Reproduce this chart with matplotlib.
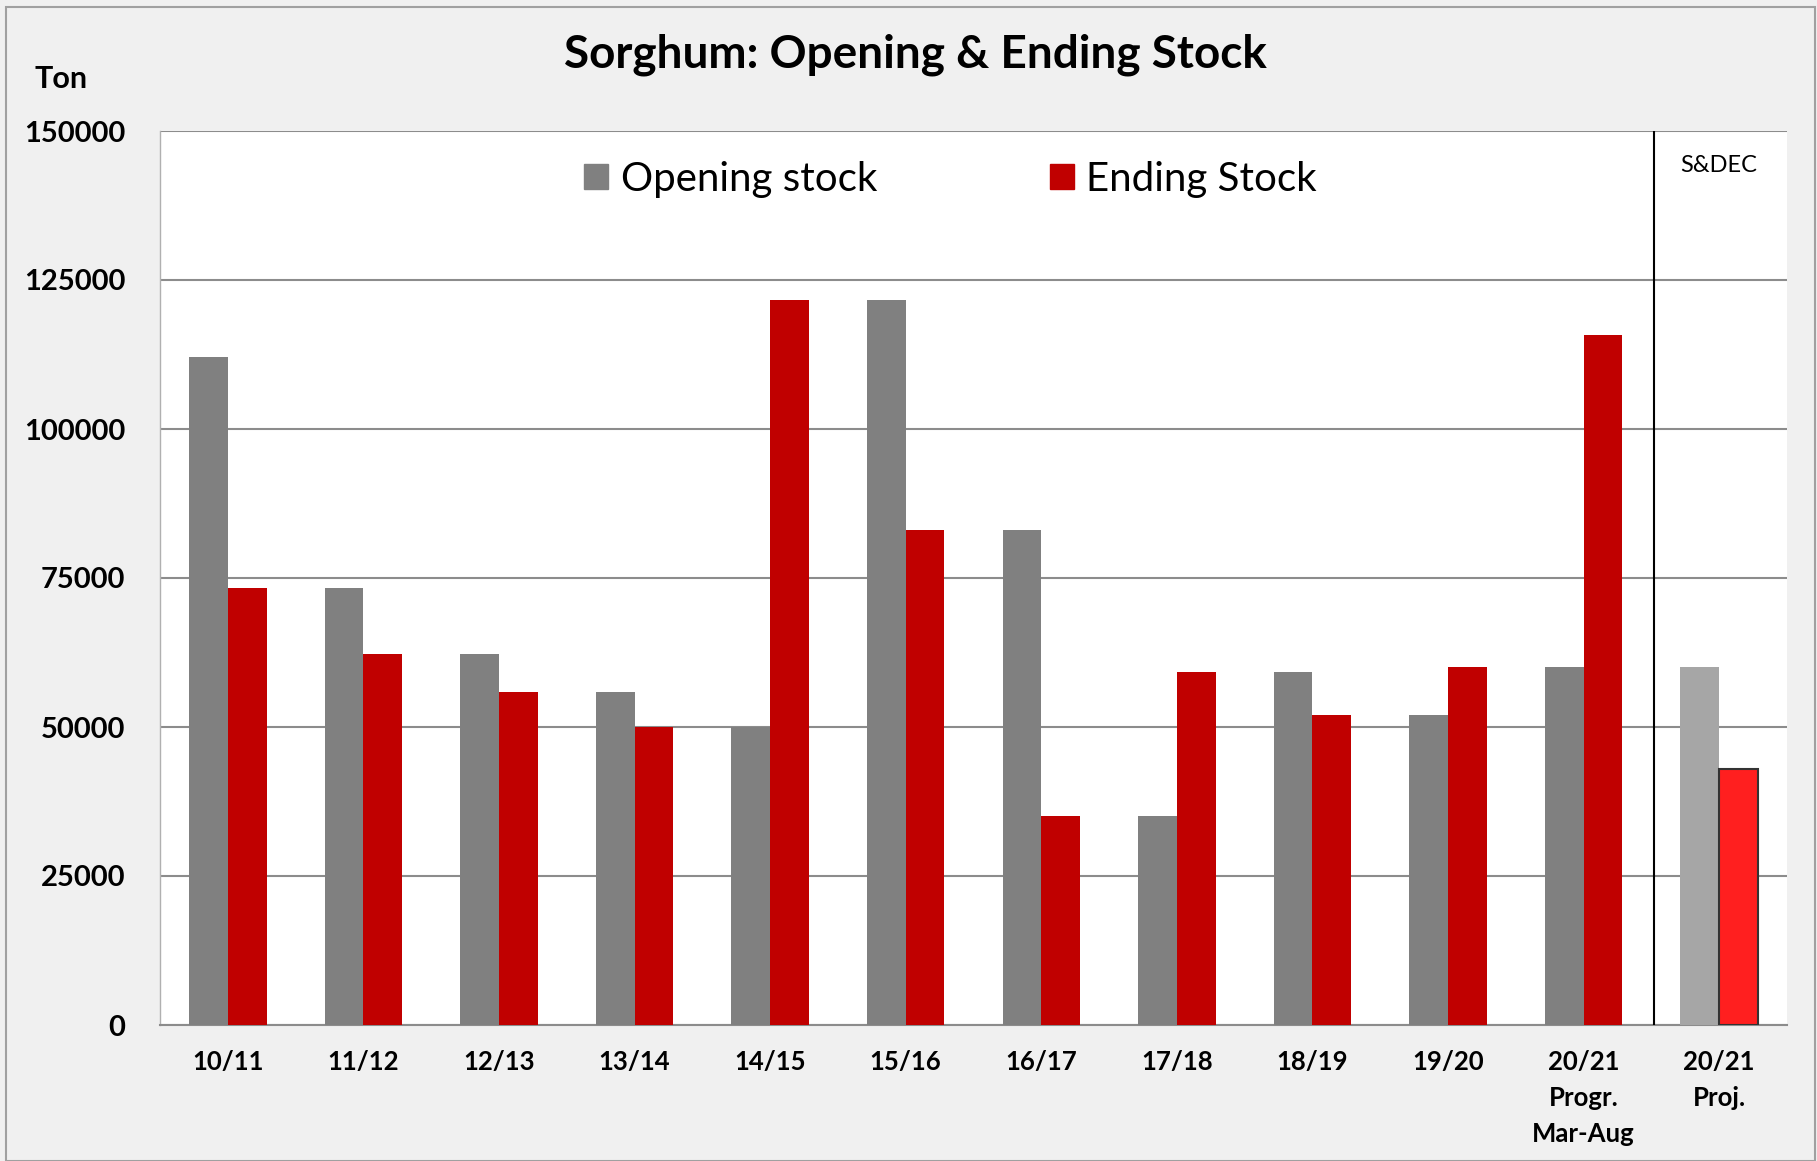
import matplotlib
matplotlib.use("Agg")
import matplotlib.pyplot as plt
import numpy as np
from matplotlib.patches import Rectangle, Patch

categories = ["10/11", "11/12", "12/13", "13/14", "14/15", "15/16", "16/17",
              "17/18", "18/19", "19/20", "20/21\nProgr.\nMar-Aug", "20/21\nProj."]
opening = [112000, 73300, 62300, 55900, 50000, 121600, 83100, 35000, 59300, 52000, 60100, 60100]
ending = [73300, 62300, 55900, 50000, 121600, 83100, 35000, 59300, 52000, 60100, 115800, 43000]
yticks = [0, 25000, 50000, 75000, 100000, 125000, 150000]

plt.rcParams['font.family'] = ['Lato', 'DejaVu Sans']

fig = plt.figure(figsize=(18.17, 11.61), dpi=100, facecolor="#f0f0f0")
ax = fig.add_axes([160/1817, 136/1161, 1627/1817, 894/1161])
ax.set_facecolor("white")

x = np.arange(len(categories))
w = 0.286
op_colors = ["#808080"] * (len(categories) - 1) + ["#a6a6a6"]
en_colors = ["#c00000"] * (len(categories) - 1) + ["#ff1f1f"]
ax.bar(x[:-1] - w/2, opening[:-1], w, color=op_colors[:-1], zorder=3)
ax.bar(x[:-1] + w/2, ending[:-1], w, color=en_colors[:-1], zorder=3)
ax.bar(x[-1:] - w/2, opening[-1:], w, color=op_colors[-1], zorder=3)
ax.bar(x[-1:] + w/2, ending[-1:], w, color=en_colors[-1], edgecolor="#333333", linewidth=1.5, zorder=3)

ax.set_xlim(-0.5, len(categories) - 0.5)
ax.set_ylim(0, 150000)
ax.set_yticks(yticks)
ax.set_yticklabels([str(v) for v in yticks], fontsize=21, fontweight="bold")
ax.set_xticks(x)
ax.set_xticklabels(categories, fontsize=18.5, fontweight="bold", linespacing=1.6, va="top")
ax.tick_params(axis="both", length=0)
ax.tick_params(axis="x", pad=18)
ax.tick_params(axis="y", pad=25)
ax.grid(axis="y", color="#8c8c8c", linewidth=1.5, zorder=0)
for s in ["top", "right"]:
    ax.spines[s].set_visible(False)
ax.spines["left"].set_color("#b0b0b0")
ax.spines["left"].set_linewidth(1)
ax.spines["bottom"].set_color("#8c8c8c")
ax.spines["bottom"].set_linewidth(1.5)

ax.axvline(10.52, color="black", linewidth=1.5, zorder=4)
ax.text(11.0, 144200, "S&DEC", ha="center", va="center", fontsize=17)

handles = [Patch(color="#808080", label="Opening stock"), Patch(color="#c00000", label="Ending Stock")]
ax.legend(handles=handles, loc="center", bbox_to_anchor=(0.486, 0.9458), ncol=2, frameon=False,
          fontsize=29, handlelength=0.58, handleheight=0.58, handletextpad=0.32, columnspacing=4.3,
          borderpad=0, borderaxespad=0)

fig.text(915/1817, 1 - 55/1161, "Sorghum: Opening & Ending Stock", ha="center", va="center",
         fontsize=33, fontweight="bold")
fig.text(61/1817, 1 - 79/1161, "Ton", ha="center", va="center", fontsize=22, fontweight="bold")

fig.patches.append(Rectangle((6/1817, 0), 1 - 8/1817, 1 - 7/1161, transform=fig.transFigure,
                             fill=False, edgecolor="#a0a0a0", linewidth=1.5))

fig.savefig("out.png", dpi=100, facecolor=fig.get_facecolor())
